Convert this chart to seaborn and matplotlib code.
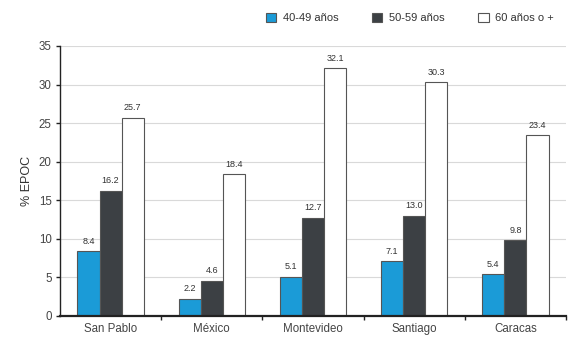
import matplotlib
matplotlib.use("Agg")
import matplotlib.pyplot as plt
import pandas as pd
import seaborn as sns

ciudades = ["San Pablo", "México", "Montevideo", "Santiago", "Caracas"]
grupos = ["40-49 años", "50-59 años", "60 años o +"]
edad_40_49 = [8.4, 2.2, 5.1, 7.1, 5.4]
edad_50_59 = [16.2, 4.6, 12.7, 13.0, 9.8]
edad_60_mas = [25.7, 18.4, 32.1, 30.3, 23.4]
yticks = [0, 5, 10, 15, 20, 25, 30, 35]

colores = ["#1b9bd7", "#3c4044", "#ffffff"]

df = pd.DataFrame({
    "ciudad": ciudades * 3,
    "grupo": [grupos[0]] * 5 + [grupos[1]] * 5 + [grupos[2]] * 5,
    "epoc": edad_40_49 + edad_50_59 + edad_60_mas,
})

sns.set_theme(style="white")
plt.rcParams["font.family"] = ["Liberation Sans", "DejaVu Sans"]

fig = plt.figure(figsize=(5.68, 3.42), dpi=100)
ax = fig.add_axes([60 / 568, 26 / 342, 506 / 568, 270 / 342])

sns.barplot(data=df, x="ciudad", y="epoc", hue="grupo", order=ciudades,
            hue_order=grupos, palette=colores, width=0.655, ax=ax,
            edgecolor="#555555", linewidth=0.8, saturation=1, legend=True)

for cont in ax.containers:
    ax.bar_label(cont, fmt="%.1f", padding=4, fontsize=6.5, color="#333333")

ax.set_ylim(0, 35)
ax.set_xlim(-0.5, 4.44)
ax.set_yticks(yticks)
ax.yaxis.grid(True, color="#d9d9d9", linewidth=0.8)
ax.set_axisbelow(True)

for side in ["top", "right"]:
    ax.spines[side].set_visible(False)
ax.spines["left"].set_color("#222222")
ax.spines["left"].set_linewidth(1.0)
ax.spines["bottom"].set_color("#222222")
ax.spines["bottom"].set_linewidth(1.6)

ax.set_xlabel("")
ax.set_ylabel("% EPOC", fontsize=9, color="#333333", labelpad=4)

# category labels without ticks; small ticks at category boundaries
ax.set_xticks(range(len(ciudades)))
ax.set_xticklabels(ciudades, fontsize=8.3, color="#444444")
ax.set_xticks([0.5, 1.5, 2.5, 3.5, 4.5], minor=True)
ax.tick_params(axis="x", which="major", length=0, pad=5)
ax.tick_params(axis="x", which="minor", length=3, width=1, color="#222222",
               direction="out", bottom=True)
ax.tick_params(axis="y", length=3, width=1, color="#222222", direction="out",
               labelsize=8.3, labelcolor="#444444", left=True, pad=3)

handles, labels = ax.get_legend_handles_labels()
ax.get_legend().remove()
fig.legend(handles, labels, loc="center right", bbox_to_anchor=(564 / 568, 1 - 18 / 342),
           ncol=3, frameon=False, fontsize=8, handlelength=0.95, handleheight=0.95,
           handletextpad=0.6, columnspacing=3.0, labelcolor="#333333")

fig.savefig("out.png", dpi=100)
